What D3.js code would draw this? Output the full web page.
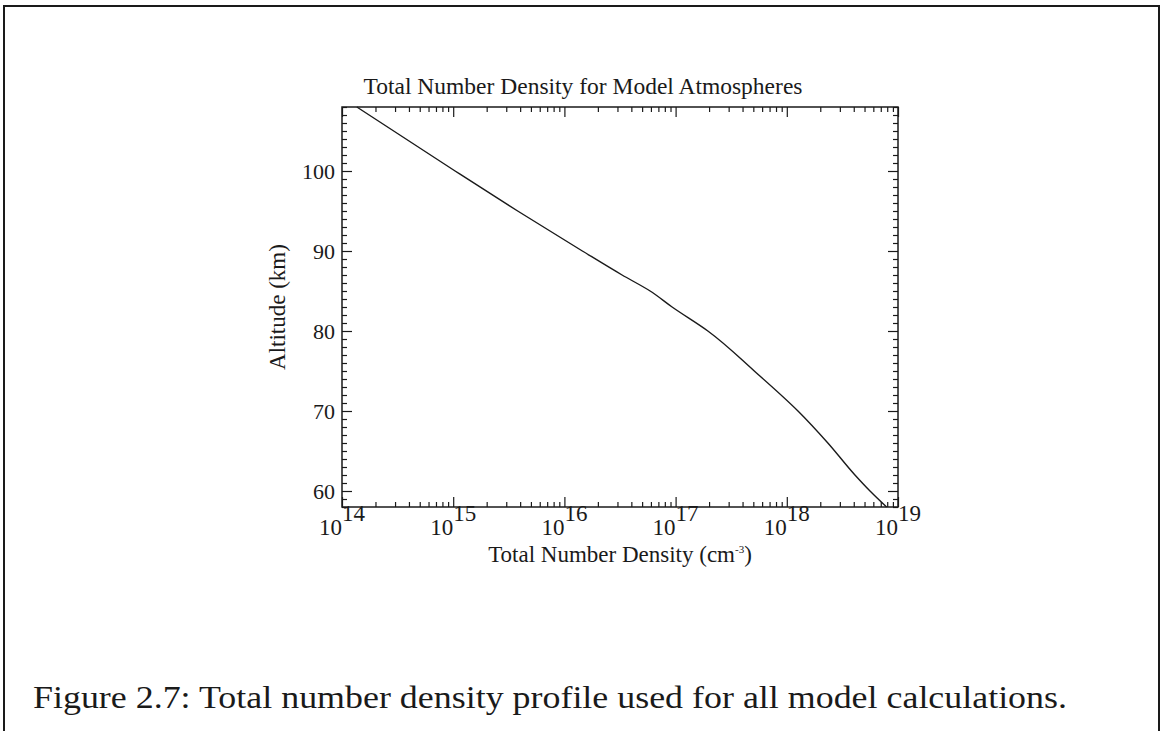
<!DOCTYPE html>
<html>
<head>
<meta charset="utf-8">
<script src="https://cdn.jsdelivr.net/npm/d3@7"></script>
<style>
  html, body { margin: 0; padding: 0; background: #fff; }
  svg { display: block; }
</style>
</head>
<body>
<svg id="fig" width="1161" height="731"></svg>
<script>
// Atmosphere profile: altitude (km) vs total number density (cm^-3)
const altitudeKm = [108, 100, 95, 90, 87, 85, 83, 80, 75, 70, 66, 62, 60, 58];
const densityCm3 = [1.36e14, 1.04e15, 3.8e15, 1.45e16, 3.3e16, 5.9e16, 9.3e16, 1.95e17, 5.1e17, 1.26e18, 2.34e18, 4.1e18, 5.6e18, 7.9e18];

const xMajorExponents = [14, 15, 16, 17, 18, 19];
const yMajorTicks = [60, 70, 80, 90, 100];

const titleText = "Total Number Density for Model Atmospheres";
const xLabelText = "Total Number Density (cm";
const xLabelSup = "-3";
const yLabelText = "Altitude (km)";
const captionText = "Figure 2.7: Total number density profile used for all model calculations.";

const svg = d3.select("#fig");
const ink = "#1a1a1a";
const serif = "'Liberation Serif', 'Times New Roman', serif";

// page frame around the figure
svg.append("rect")
  .attr("x", 4).attr("y", 6)
  .attr("width", 1155).attr("height", 760)
  .attr("fill", "none").attr("stroke", ink).attr("stroke-width", 2);

const plot = { left: 342, right: 898, top: 107, bottom: 507 };

const x = d3.scaleLog().domain([1e14, 1e19]).range([plot.left, plot.right]);
const y = d3.scaleLinear().domain([58, 108]).range([plot.bottom, plot.top]);

const xMajors = xMajorExponents.map(e => Math.pow(10, e));
const xMinors = [];
xMajorExponents.slice(0, -1).forEach(e => {
  for (let k = 2; k <= 9; k++) xMinors.push(k * Math.pow(10, e));
});
const yMinors = d3.range(58, 109, 1).filter(v => v % 10 !== 0);

const g = svg.append("g");

function tickLayer(axisFn, scale, values, size, transform) {
  const a = g.append("g")
    .attr("transform", transform)
    .call(axisFn(scale).tickValues(values).tickSize(size).tickFormat(""));
  a.select(".domain").remove();
  a.selectAll("line").attr("stroke", ink).attr("stroke-width", 1.2);
  return a;
}

// inward ticks on all four sides
tickLayer(d3.axisBottom, x, xMajors, -10, `translate(0,${plot.bottom})`);
tickLayer(d3.axisBottom, x, xMinors, -5, `translate(0,${plot.bottom})`);
tickLayer(d3.axisTop, x, xMajors, -10, `translate(0,${plot.top})`);
tickLayer(d3.axisTop, x, xMinors, -5, `translate(0,${plot.top})`);
tickLayer(d3.axisLeft, y, yMajorTicks, -10, `translate(${plot.left},0)`);
tickLayer(d3.axisLeft, y, yMinors, -5, `translate(${plot.left},0)`);
tickLayer(d3.axisRight, y, yMajorTicks, -10, `translate(${plot.right},0)`);
tickLayer(d3.axisRight, y, yMinors, -5, `translate(${plot.right},0)`);

// plot box
g.append("rect")
  .attr("x", plot.left).attr("y", plot.top)
  .attr("width", plot.right - plot.left).attr("height", plot.bottom - plot.top)
  .attr("fill", "none").attr("stroke", ink).attr("stroke-width", 1.5);

// profile curve
const line = d3.line()
  .x((d, i) => x(densityCm3[i]))
  .y(d => y(d))
  .curve(d3.curveMonotoneY);
g.append("path")
  .datum(altitudeKm)
  .attr("d", line)
  .attr("fill", "none").attr("stroke", ink).attr("stroke-width", 1.4);

// y tick labels
g.selectAll("text.ylab").data(yMajorTicks).enter().append("text")
  .attr("class", "ylab")
  .attr("x", plot.left - 7).attr("y", d => y(d) + 8)
  .attr("text-anchor", "end")
  .attr("font-family", serif).attr("font-size", 22).attr("fill", ink)
  .text(d => d);

// x tick labels as powers of ten; the "10" ends at its tick
const xl = g.selectAll("text.xlab").data(xMajorExponents).enter().append("text")
  .attr("class", "xlab")
  .attr("x", d => x(Math.pow(10, d)) - 23).attr("y", 535)
  .attr("font-family", serif).attr("font-size", 23).attr("fill", ink);
xl.append("tspan").text("10");
xl.append("tspan").attr("dy", -14).attr("font-size", 23).text(d => d);

// title
svg.append("text")
  .attr("x", 583).attr("y", 94)
  .attr("text-anchor", "middle")
  .attr("font-family", serif).attr("font-size", 23.5).attr("fill", ink)
  .text(titleText);

// x axis title
const xt = svg.append("text")
  .attr("x", (plot.left + plot.right) / 2).attr("y", 562)
  .attr("text-anchor", "middle")
  .attr("font-family", serif).attr("font-size", 23).attr("fill", ink);
xt.append("tspan").text(xLabelText);
xt.append("tspan").attr("dy", -9).attr("font-size", 11).text(xLabelSup);
xt.append("tspan").attr("dy", 9).text(")");

// y axis title
svg.append("text")
  .attr("transform", `translate(285,307) rotate(-90)`)
  .attr("text-anchor", "middle")
  .attr("font-family", serif).attr("font-size", 23).attr("fill", ink)
  .text(yLabelText);

// figure caption
svg.append("text")
  .attr("x", 33).attr("y", 708)
  .attr("font-family", serif).attr("font-size", 31).attr("fill", ink)
  .attr("textLength", 1034).attr("lengthAdjust", "spacingAndGlyphs")
  .text(captionText);
</script>
</body>
</html>
